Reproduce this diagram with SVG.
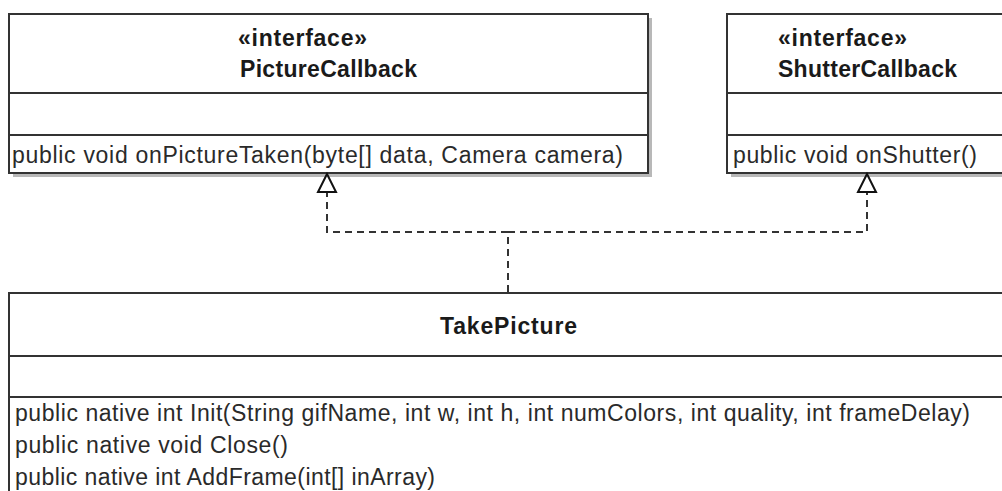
<svg xmlns="http://www.w3.org/2000/svg" width="1002" height="491" viewBox="0 0 1002 491">
<defs>
<style>
.box{fill:#fff;stroke:#333;stroke-width:2}
.shadow{fill:#b8b8b8}
.div{stroke:#333;stroke-width:2}
.title{font-family:"Liberation Sans",Arial,sans-serif;font-weight:bold;font-size:23px;fill:#1a1a1a}
.member{font-family:"Liberation Sans",Arial,sans-serif;font-size:23px;fill:#2a2a2a}
.dash{fill:none;stroke:#333;stroke-width:2;stroke-dasharray:7,5}
.tri{fill:#fff;stroke:#111;stroke-width:2}
</style>
</defs>
<rect width="1002" height="491" fill="#fff"/>
<g id="PictureCallback">
<rect class="shadow" x="13" y="18" width="639" height="159"/>
<rect class="box" x="9" y="14" width="639" height="159"/>
<line class="div" x1="9" y1="93" x2="648" y2="93"/>
<line class="div" x1="9" y1="135" x2="648" y2="135"/>
<text class="title" x="238" y="46" textLength="129">«interface»</text>
<text class="title" x="240" y="77" textLength="177">PictureCallback</text>
<text class="member" x="12" y="163" textLength="611">public void onPictureTaken(byte[] data, Camera camera)</text>
</g>
<g id="ShutterCallback">
<rect class="shadow" x="731" y="18" width="300" height="159"/>
<rect class="box" x="727" y="14" width="300" height="159"/>
<line class="div" x1="727" y1="93" x2="1002" y2="93"/>
<line class="div" x1="727" y1="135" x2="1002" y2="135"/>
<text class="title" x="778" y="46" textLength="129">«interface»</text>
<text class="title" x="778" y="77" textLength="179">ShutterCallback</text>
<text class="member" x="733" y="163" textLength="244">public void onShutter()</text>
</g>
<g id="TakePicture">
<rect class="box" x="9" y="293" width="1010" height="220"/>
<line class="div" x1="9" y1="356" x2="1002" y2="356"/>
<line class="div" x1="9" y1="397" x2="1002" y2="397"/>
<text class="title" x="440" y="334" textLength="137">TakePicture</text>
<text class="member" x="15" y="421" textLength="955">public native int Init(String gifName, int w, int h, int numColors, int quality, int frameDelay)</text>
<text class="member" x="15" y="453" textLength="273">public native void Close()</text>
<text class="member" x="15" y="485" textLength="420">public native int AddFrame(int[] inArray)</text>
</g>
<g id="connectors">
<path class="dash" d="M508,292 V232 H327 V192"/>
<path class="dash" d="M508,232 H867 V192"/>
<polygon class="tri" points="327,174 318,192 336,192"/>
<polygon class="tri" points="867,174 858,192 876,192"/>
</g>
</svg>
